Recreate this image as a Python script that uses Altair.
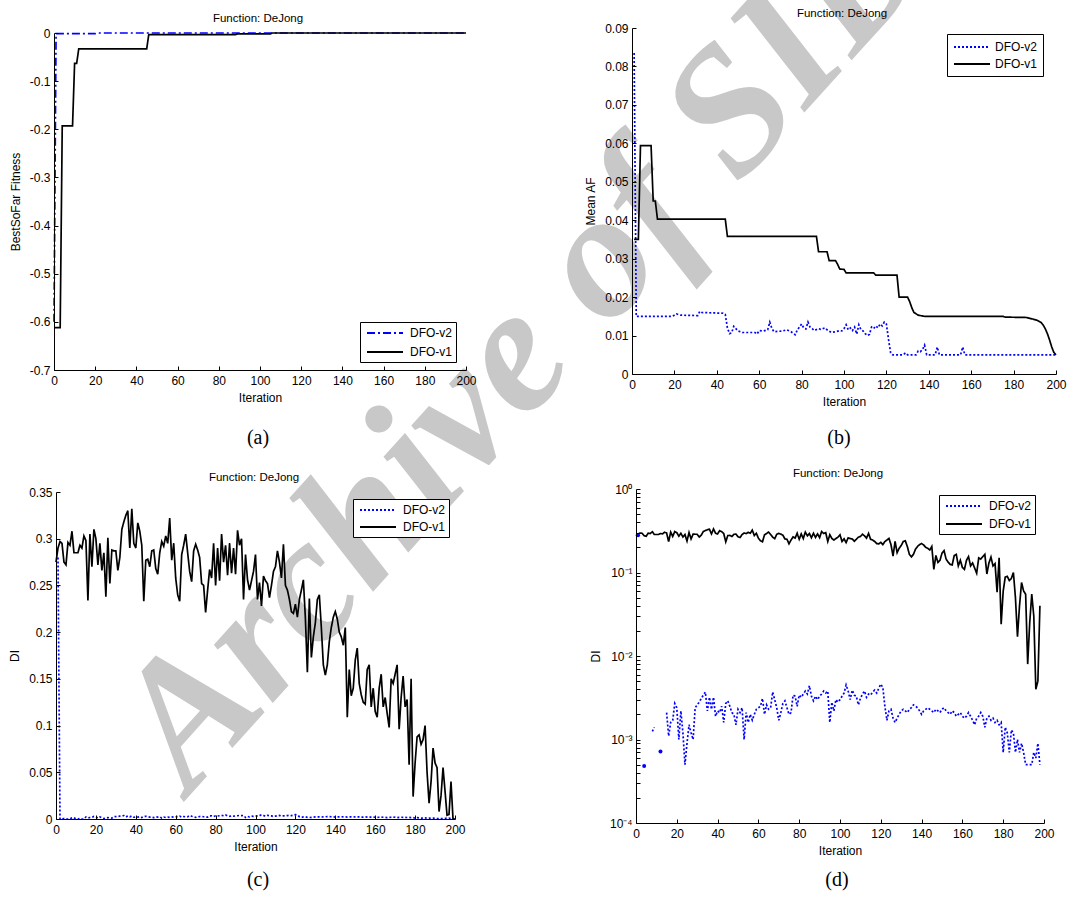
import altair as alt
import pandas as pd

W, H = 1088, 901
FONT = "Liberation Sans"
SERIES = ["DFO-v2", "DFO-v1"]
TITLE = "Function: DeJong"

# ---------------- data ----------------
# (a) best-so-far fitness (change points of the step curves)
a_v2_iter = [0, 1, 20, 21, 200]
a_v2_val = [-0.600, -0.0015, -0.0015, 0.0, 0.0]
a_v1_iter = [0, 3, 4, 9, 10, 11, 12, 45, 46, 88, 89, 105, 106, 200]
a_v1_val = [-0.612, -0.612, -0.193, -0.193, -0.063, -0.063, -0.033, -0.033,
            -0.0035, -0.0035, -0.002, -0.002, 0.0, 0.0]

# (b) mean AF
b_v2_iter = [1, 2, 19, 20, 21, 23, 31, 32, 33, 43, 44, 45, 46, 47, 48, 49, 50, 52, 54, 58,
             59, 60, 62, 64, 65, 66, 67, 69, 71, 73, 75, 77, 78, 79, 80, 81, 82, 83, 84, 85,
             86, 88, 89, 91, 92, 94, 96, 98, 99, 100, 101, 102, 103, 104, 105, 106, 107, 108,
             109, 110, 111, 112, 113, 114, 115, 116, 117, 118, 119, 120, 121, 122, 123, 128,
             129, 130, 134, 135, 136, 137, 138, 139, 143, 144, 145, 155, 156, 157, 200]
b_v2_val = [0.0835, 0.015, 0.015, 0.0153, 0.0156, 0.0153, 0.0152, 0.0163, 0.016, 0.0158,
            0.0155, 0.012, 0.0105, 0.0107, 0.0124, 0.0118, 0.0112, 0.0108, 0.0108, 0.0108,
            0.0104, 0.0113, 0.0112, 0.0115, 0.0135, 0.0118, 0.011, 0.0111, 0.0112, 0.0115,
            0.011, 0.0102, 0.0115, 0.0122, 0.013, 0.012, 0.0117, 0.0135, 0.0122, 0.0118,
            0.0113, 0.0118, 0.0116, 0.012, 0.0115, 0.0108, 0.011, 0.0113, 0.0112, 0.0118,
            0.0128, 0.0115, 0.012, 0.0113, 0.0122, 0.0104, 0.0128, 0.0115, 0.0112, 0.0105,
            0.0100, 0.0103, 0.0122, 0.0118, 0.0125, 0.012, 0.013, 0.0125, 0.0135, 0.013,
            0.009, 0.0055, 0.005, 0.005, 0.0055, 0.005, 0.005, 0.006, 0.0058, 0.0063,
            0.0075, 0.005, 0.005, 0.007, 0.005, 0.005, 0.007, 0.005, 0.005]
b_v1_iter = [1, 3, 4, 9, 10, 11, 12, 44, 45, 87, 88, 92, 93, 96, 97, 98, 100, 101, 114, 115,
             125, 126, 130, 131, 132, 133, 135, 138, 175, 176, 186, 189, 191, 193, 194, 195,
             196, 197, 198, 199, 200]
b_v1_val = [0.035, 0.035, 0.0594, 0.0594, 0.045, 0.045, 0.0403, 0.0403, 0.0358, 0.0358,
            0.0318, 0.0318, 0.0295, 0.0295, 0.0285, 0.0273, 0.0272, 0.0263, 0.0263, 0.0257,
            0.0257, 0.0200, 0.0200, 0.0188, 0.0172, 0.0160, 0.0153, 0.0150, 0.0150, 0.0148,
            0.0147, 0.0143, 0.0140, 0.0134, 0.0127, 0.0117, 0.0104, 0.0088, 0.0070, 0.0056,
            0.005]

# (c)/(d) diversity index DI, iterations 0..200
di_iter = list(range(0, 201))
di_v1 = [0.275, 0.29, 0.297, 0.295, 0.275, 0.272, 0.296, 0.293, 0.308, 0.285,
         0.285, 0.285, 0.293, 0.290, 0.303, 0.298, 0.234, 0.305, 0.27, 0.31,
         0.30, 0.272, 0.295, 0.266, 0.285, 0.238, 0.301, 0.252, 0.288, 0.287,
         0.287, 0.266, 0.28, 0.31, 0.318, 0.325, 0.33, 0.29, 0.332, 0.295,
         0.29, 0.317, 0.308, 0.293, 0.233, 0.277, 0.278, 0.27, 0.287, 0.288,
         0.268, 0.262, 0.285, 0.297, 0.292, 0.303, 0.295, 0.322, 0.277, 0.295,
         0.258, 0.24, 0.233, 0.283, 0.293, 0.305, 0.285, 0.265, 0.254, 0.287,
         0.294, 0.288, 0.28, 0.252, 0.25, 0.221, 0.245, 0.267, 0.258, 0.295,
         0.25, 0.29, 0.255, 0.305, 0.275, 0.293, 0.261, 0.295, 0.263, 0.29,
         0.262, 0.309, 0.293, 0.3, 0.235, 0.283, 0.256, 0.245, 0.255, 0.265,
         0.283, 0.235, 0.253, 0.228, 0.26, 0.255, 0.252, 0.237, 0.25, 0.265,
         0.27, 0.287, 0.275, 0.258, 0.294, 0.25, 0.245, 0.235, 0.222, 0.22,
         0.23, 0.216, 0.235, 0.245, 0.256, 0.215, 0.157, 0.236, 0.173, 0.195,
         0.21, 0.235, 0.24, 0.205, 0.165, 0.154, 0.165, 0.19, 0.205, 0.216,
         0.222, 0.214, 0.2, 0.195, 0.186, 0.205, 0.109, 0.16, 0.132, 0.14,
         0.17, 0.183, 0.145, 0.133, 0.125, 0.123, 0.16, 0.165, 0.12, 0.14,
         0.115, 0.109, 0.14, 0.155, 0.12, 0.13, 0.113, 0.098, 0.15, 0.145,
         0.155, 0.165, 0.096, 0.13, 0.153, 0.12, 0.128, 0.058, 0.15, 0.024,
         0.06, 0.088, 0.09, 0.08, 0.085, 0.1, 0.05, 0.017, 0.04, 0.076,
         0.06, 0.055, 0.008, 0.025, 0.055, 0.03, 0.004, 0.005, 0.04, 0.0,
         0.0]
di_v2 = [None, 0.28, 0.0, 0.0, 0.00048, 0.0, 0.0, 0.0, 0.00125, 0.0014,
         0.0, 0.0, 0.00072, 0.0, 0.0, 0.0021, 0.0011, 0.0016, 0.0017, 0.0027,
         0.0024, 0.001, 0.0022, 0.0012, 0.0005, 0.0009, 0.0015, 0.0012, 0.001, 0.0024,
         0.0026, 0.0028, 0.0031, 0.0034, 0.0037, 0.0022, 0.0032, 0.0023, 0.0032, 0.0019,
         0.0022, 0.0021, 0.0025, 0.0016, 0.0027, 0.0029, 0.0025, 0.0021, 0.002, 0.0015,
         0.0023, 0.0021, 0.0024, 0.001, 0.0021, 0.0016, 0.002, 0.0017, 0.002, 0.0023,
         0.0024, 0.0025, 0.0031, 0.002, 0.0026, 0.0023, 0.0024, 0.0037, 0.003, 0.0024,
         0.0017, 0.0021, 0.0027, 0.0029, 0.0024, 0.002, 0.0021, 0.0034, 0.0033, 0.0025,
         0.0034, 0.0032, 0.0035, 0.0038, 0.0035, 0.0044, 0.0033, 0.0029, 0.0033, 0.003,
         0.0033, 0.0035, 0.0038, 0.0036, 0.0038, 0.0016, 0.0028, 0.0022, 0.003, 0.0028,
         0.003, 0.0033, 0.0036, 0.0045, 0.0038, 0.003, 0.0039, 0.0034, 0.0033, 0.0026,
         0.0031, 0.0035, 0.0038, 0.0032, 0.0035, 0.0034, 0.0037, 0.0039, 0.0036, 0.0041,
         0.0046, 0.0042, 0.0025, 0.0017, 0.0022, 0.0023, 0.0018, 0.0016, 0.0018, 0.002,
         0.0022, 0.0023, 0.0022, 0.0021, 0.0023, 0.0024, 0.0026, 0.0025, 0.0024, 0.0022,
         0.002, 0.0022, 0.0023, 0.0024, 0.0023, 0.0022, 0.0021, 0.0023, 0.0022, 0.0021,
         0.0023, 0.0024, 0.0022, 0.0021, 0.002, 0.0022, 0.0021, 0.0019, 0.002, 0.0021,
         0.0019, 0.0018, 0.0019, 0.0021, 0.0019, 0.0017, 0.0015, 0.0018, 0.0019, 0.0021,
         0.0019, 0.0014, 0.0018, 0.0019, 0.0017, 0.0018, 0.0016, 0.0017, 0.0015, 0.0016,
         0.0007, 0.0014, 0.0012, 0.0007, 0.0013, 0.0012, 0.0007, 0.001, 0.0007, 0.0009,
         0.0007, 0.0005, 0.0005, 0.0005, 0.0005, 0.0007, 0.0006, 0.0009, 0.0005, 0.0,
         0.0]

# ---------------- helpers ----------------
def long_df(pairs):
    rows = []
    for name, xs, ys in pairs:
        for x, y in zip(xs, ys):
            rows.append({"iteration": x, "value": y, "series": name})
    return pd.DataFrame(rows)


def pos_only(vals):
    return [v if (v is not None and v > 0) else None for v in vals]


def isolated_points(xs, vals):
    px, py = [], []
    ok = [v is not None for v in vals]
    for k, v in enumerate(vals):
        if ok[k] and (k == 0 or not ok[k - 1]) and (k == len(vals) - 1 or not ok[k + 1]):
            px.append(xs[k])
            py.append(v)
    return pd.DataFrame({"iteration": px, "value": py})


def legend(lx, ly, pad, rowpad):
    # long line symbols: custom path 3x the nominal symbol width
    return alt.Legend(title=None, orient="none", legendX=lx, legendY=ly,
                      strokeColor="black", fillColor="white", padding=pad,
                      cornerRadius=0, symbolType="M-3,0H3", symbolSize=144,
                      symbolStrokeWidth=2, symbolOffset=max(0, 18 - pad),
                      labelOffset=22 - pad, labelFont=FONT, labelFontSize=12,
                      labelColor="black", rowPadding=rowpad)


XT = list(range(0, 201, 20))


def panel(df, xr, ydom, yr, ytype, yvals, ylabel_expr, ytitle, dashes, leg,
          ytitle_pad=7, minor=None, extra=None):
    xs = alt.Scale(domain=[0, 200], range=xr, nice=False, zero=False)
    ys = alt.Scale(domain=ydom, range=yr, nice=False, zero=False, type=ytype)
    ax_x = alt.Axis(orient="bottom", offset=yr[0] - H, values=XT, title="Iteration",
                    ticks=False, labelPadding=5, titlePadding=6, labelFlush=False,
                    labelOverlap=False, labelBound=False, grid=False, zindex=1,
                    domainColor="black", labelColor="black", titleColor="black",
                    labelFont=FONT, titleFont=FONT, labelFontSize=12, titleFontSize=12,
                    titleFontWeight="normal", labelExpr="'' + datum.value")
    ax_y = alt.Axis(orient="left", offset=-xr[0], values=yvals, title=ytitle,
                    ticks=False, labelPadding=4, titlePadding=ytitle_pad, labelFlush=False,
                    labelOverlap=False, labelBound=False, grid=False, zindex=1,
                    domainColor="black", labelColor="black", titleColor="black",
                    labelFont=FONT, titleFont=FONT, labelFontSize=12, titleFontSize=12,
                    titleFontWeight="normal", labelExpr=ylabel_expr)
    lines = alt.Chart(df).mark_line(strokeWidth=1.7).encode(
        x=alt.X("iteration:Q", scale=xs, axis=ax_x),
        y=alt.Y("value:Q", scale=ys, axis=ax_y),
        color=alt.Color("series:N", sort=SERIES,
                        scale=alt.Scale(domain=SERIES, range=["#0000ff", "#000000"]),
                        legend=leg),
        strokeDash=alt.StrokeDash("series:N", sort=SERIES,
                                  scale=alt.Scale(domain=SERIES, range=dashes),
                                  legend=leg),
    )
    tick_vals = yvals + (minor or [])
    ghost = alt.Chart(df).mark_line(opacity=0).encode(
        x=alt.X("iteration:Q", scale=xs,
                axis=alt.Axis(orient="top", offset=-yr[0], values=XT, labels=False,
                              domain=False, ticks=True, tickSize=4, tickColor="black",
                              title=None, grid=False, zindex=1)),
        y=alt.Y("value:Q", scale=ys,
                axis=alt.Axis(orient="right", offset=xr[0] - W, values=tick_vals,
                              labels=False, domain=False, ticks=True, tickSize=4,
                              tickColor="black", title=None, grid=False, zindex=1)),
    )
    out = [lines, ghost]
    if extra is not None:
        out.append(alt.Chart(extra).mark_point(filled=True, size=16, opacity=1,
                                               color="#0000ff").encode(
            x=alt.X("iteration:Q", scale=xs, axis=None),
            y=alt.Y("value:Q", scale=ys, axis=None)))
    return out


def text(t, x, y, size, font=FONT, angle=0, color="black", **kw):
    return alt.Chart(pd.DataFrame({"t": [t]})).mark_text(
        fontSize=size, font=font, angle=angle, color=color, **kw
    ).encode(x=alt.value(x), y=alt.value(y), text="t:N")


# ---------------- panels ----------------
df_a = long_df([("DFO-v2", a_v2_iter, a_v2_val), ("DFO-v1", a_v1_iter, a_v1_val)])
df_b = long_df([("DFO-v2", b_v2_iter, b_v2_val), ("DFO-v1", b_v1_iter, b_v1_val)])
df_c = long_df([("DFO-v2", di_iter[1:], di_v2[1:]), ("DFO-v1", di_iter, di_v1)])
df_d = long_df([("DFO-v2", di_iter[1:], pos_only(di_v2[1:])),
                ("DFO-v1", di_iter, pos_only(di_v1))])
iso_d = isolated_points(di_iter[1:], pos_only(di_v2[1:]))

dotted = [[2, 2], [1, 0]]
dashdot = [[8, 3, 2, 3], [1, 0]]

plain = "'' + datum.value"
log_expr = ("datum.value >= 0.5 ? '10\u2070' : datum.value >= 0.05 ? '10\u207b\u00b9' : "
            "datum.value >= 0.005 ? '10\u207b\u00b2' : datum.value >= 0.0005 ? '10\u207b\u00b3' : '10\u207b\u2074'")

minor_log = [m * 10.0 ** e for e in (-4, -3, -2, -1) for m in range(2, 10)]

layers = []
# watermark (drawn first, under everything)
layers.append(text("Archive of SID", 190, 795, 180, font="Liberation Serif", angle=312,
                   color="#c8c8c8", align="left", baseline="alphabetic",
                   fontStyle="italic", fontWeight="bold"))

layers += panel(df_a, [54, 466], [-0.7, 0], [370, 33], "linear",
                [-0.7, -0.6, -0.5, -0.4, -0.3, -0.2, -0.1, 0], plain,
                "BestSoFar Fitness", dashdot, legend(360, 322, 4, 6))
layers += panel(df_b, [632, 1056], [0, 0.09], [374, 28], "linear",
                [0, 0.01, 0.02, 0.03, 0.04, 0.05, 0.06, 0.07, 0.08, 0.09], plain,
                "Mean AF", dotted, legend(947, 34, 6, 4))
layers += panel(df_c, [56, 455], [0, 0.35], [819, 492], "linear",
                [0, 0.05, 0.1, 0.15, 0.2, 0.25, 0.3, 0.35], plain,
                "DI", dotted, legend(353, 499, 4, 4))
layers += panel(df_d, [636, 1044], [0.0001, 1], [823, 489], "log",
                [0.0001, 0.001, 0.01, 0.1, 1], log_expr,
                "DI", dotted, legend(939, 495, 4, 5), minor=minor_log, extra=iso_d)

# panel titles
layers.append(text(TITLE, 258, 19, 11.5))
layers.append(text(TITLE, 842, 14, 11.5))
layers.append(text(TITLE, 254, 478, 11.5))
layers.append(text(TITLE, 838, 474, 11.5))
# captions
for cap, cx, cy in [("(a)", 258, 438), ("(b)", 839, 438), ("(c)", 258, 880), ("(d)", 837, 880)]:
    layers.append(text(cap, cx, cy, 20, font="Liberation Serif"))

chart = alt.layer(*layers).resolve_scale(
    x="independent", y="independent", color="independent", strokeDash="independent"
).resolve_axis(
    x="independent", y="independent"
).resolve_legend(
    color="independent", strokeDash="independent"
).properties(
    width=W, height=H, autosize=alt.AutoSizeParams(type="none"), padding=0,
    background="white"
).configure_view(strokeWidth=0)

chart.save("out.html", embed_options={"renderer": "svg", "actions": False})
